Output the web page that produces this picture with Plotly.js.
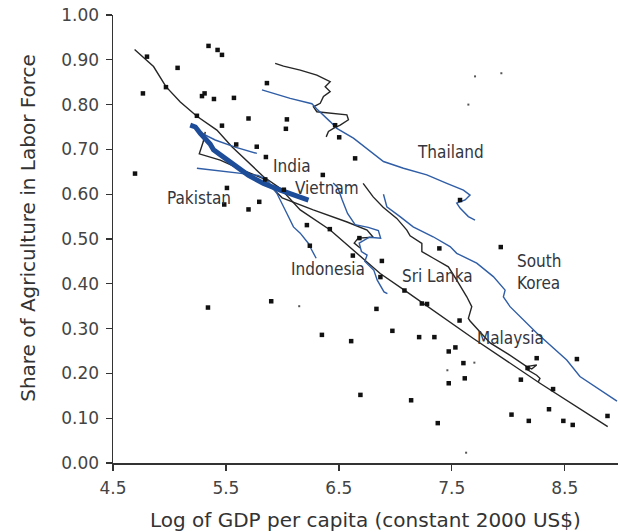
<!DOCTYPE html>
<html>
<head>
<meta charset="utf-8">
<script src="https://cdn.plot.ly/plotly-3.0.1.min.js"></script>
<style>html,body{margin:0;padding:0;background:#fff;}#chart{width:618px;height:532px;}</style>
</head>
<body>
<div id="chart"></div>
<script>
// ---- data ----
const xTicks = [4.5, 5.5, 6.5, 7.5, 8.5];
const xTickLabels = ["4.5", "5.5", "6.5", "7.5", "8.5"];
const yTicks = [0, 0.1, 0.2, 0.3, 0.4, 0.5, 0.6, 0.7, 0.8, 0.9, 1.0];
const yTickLabels = ["0.00","0.10","0.20","0.30","0.40","0.50","0.60","0.70","0.80","0.90","1.00"];

const pointsX = [4.801,5.346,5.426,5.465,5.072,4.765,4.969,5.288,5.311,5.394,5.571,5.243,5.465,5.591,5.863,5.700,6.040,6.031,5.773,5.854,6.467,6.503,6.644,6.358,4.695,5.509,5.485,5.795,5.700,6.013,5.848,6.217,6.420,6.243,6.682,6.624,6.881,6.868,7.081,7.390,7.934,7.235,7.281,6.833,7.569,6.974,6.609,7.211,7.346,7.473,7.532,7.603,7.473,7.615,8.252,8.171,8.608,8.112,8.397,6.691,7.140,8.029,8.361,8.182,8.488,8.571,8.879,7.376,5.341,5.901,6.350,7.573];
const pointsY = [0.907,0.931,0.922,0.911,0.882,0.825,0.839,0.819,0.825,0.8125,0.815,0.775,0.753,0.711,0.848,0.769,0.767,0.746,0.706,0.683,0.754,0.727,0.680,0.643,0.646,0.614,0.577,0.583,0.566,0.610,0.633,0.531,0.522,0.485,0.502,0.463,0.451,0.415,0.385,0.479,0.482,0.356,0.355,0.344,0.318,0.295,0.272,0.281,0.281,0.249,0.258,0.223,0.178,0.189,0.234,0.212,0.232,0.186,0.165,0.152,0.140,0.108,0.120,0.094,0.094,0.085,0.105,0.089,0.347,0.361,0.286,0.587];

const tinyX = [7.706,7.939,7.647,7.700,7.461,7.627,6.149];
const tinyY = [0.863,0.870,0.800,0.224,0.207,0.023,0.350];

const trendX = [4.691,4.859,4.969,5.096,5.243,5.420,5.553,5.833,5.981,6.158,6.423,6.659,6.866,7.102,7.691,8.281,8.881];
const trendY = [0.923,0.885,0.840,0.806,0.774,0.743,0.706,0.639,0.613,0.565,0.520,0.468,0.423,0.382,0.278,0.178,0.081];

const thaiBlueX = [5.819,6.069,6.261,6.305,6.423,6.482,6.629,6.777,6.895,7.072,7.279,7.456,7.603,7.662,7.618,7.544,7.573,7.647,7.706];
const thaiBlueY = [0.833,0.814,0.802,0.790,0.762,0.747,0.725,0.695,0.673,0.658,0.643,0.624,0.609,0.598,0.587,0.580,0.569,0.550,0.542];

const thaiBlackX = [5.936,6.010,6.158,6.305,6.423,6.379,6.423,6.364,6.335,6.275,6.305,6.423,6.571,6.585,6.512,6.452,6.408,6.388];
const thaiBlackY = [0.892,0.886,0.877,0.866,0.851,0.840,0.829,0.818,0.803,0.795,0.784,0.781,0.777,0.766,0.754,0.747,0.740,0.728];

const longBlackX = [6.715,6.804,6.892,7.013,7.102,7.131,7.235,7.235,7.337,7.470,7.544,7.633,7.677,7.647,7.662,7.839,8.000,8.100,8.164,8.208,8.252,8.164,8.164,8.252,8.281,8.266];
const longBlackY = [0.624,0.594,0.571,0.546,0.520,0.507,0.490,0.472,0.457,0.438,0.408,0.371,0.349,0.323,0.317,0.268,0.243,0.226,0.215,0.210,0.219,0.215,0.209,0.196,0.189,0.181];

const koreaX = [6.895,6.925,7.042,7.158,7.335,7.485,7.544,7.721,7.868,7.972,7.957,8.016,8.252,8.518,8.635,8.812,8.963];
const koreaY = [0.600,0.572,0.550,0.527,0.505,0.483,0.468,0.446,0.416,0.386,0.371,0.349,0.290,0.230,0.193,0.163,0.138];

const vietBlueX = [6.45,6.490,6.530,6.577,6.644,6.760,6.850,6.870,6.770,6.680,6.700,6.750,6.730,6.810,6.840,6.900,6.930];
const vietBlueY = [0.625,0.615,0.587,0.557,0.532,0.526,0.519,0.502,0.504,0.491,0.472,0.464,0.450,0.430,0.408,0.382,0.378];

const pakBlueX = [5.243,5.450,5.627,5.786,5.863,5.951,6.040,6.098,6.158,6.231,6.261,6.299];
const pakBlueY = [0.658,0.652,0.647,0.642,0.632,0.602,0.557,0.527,0.513,0.490,0.475,0.457];

const shortBlueX = [5.288,5.405,5.582,5.774];
const shortBlueY = [0.736,0.721,0.705,0.691];

const indiaX = [5.184,5.230,5.273,5.326,5.360,5.390,5.479,5.597,5.700,5.833,5.981,6.231];
const indiaY = [0.754,0.750,0.736,0.721,0.712,0.699,0.684,0.661,0.642,0.624,0.609,0.587];

const indoBlackX = [5.317,5.299,5.264,5.450,5.627,5.821,5.998,6.273,6.573,6.750,6.804,6.671,6.636,6.689];
const indoBlackY = [0.739,0.717,0.690,0.676,0.656,0.636,0.592,0.565,0.538,0.520,0.504,0.502,0.491,0.480];

const labelText = ["Thailand","India","Vietnam","Pakistan","Indonesia","Sri Lanka","South<br>Korea","Malaysia"];
const labelX = [7.489,6.084,6.392,5.264,6.401,7.377,8.060,8.016];
const labelY = [0.694,0.662,0.614,0.592,0.433,0.417,0.426,0.279];
const labelAnchor = ["center","center","center","center","center","center","left","center"];

// ---- styles ----
const BLACK = "#262626";
const BLUE = "#2f5da6";
const thin = (x, y, color) => ({x, y, type:"scatter", mode:"lines", line:{color, width:1.4}, hoverinfo:"skip", showlegend:false});

const traces = [
  thin(trendX, trendY, BLACK),
  thin(thaiBlackX, thaiBlackY, BLACK),
  thin(longBlackX, longBlackY, BLACK),
  thin(indoBlackX, indoBlackY, BLACK),
  thin(thaiBlueX, thaiBlueY, BLUE),
  thin(koreaX, koreaY, BLUE),
  thin(vietBlueX, vietBlueY, BLUE),
  thin(pakBlueX, pakBlueY, BLUE),
  thin(shortBlueX, shortBlueY, BLUE),
  {x:indiaX, y:indiaY, type:"scatter", mode:"lines", line:{color:"#1d4c99", width:5}, hoverinfo:"skip", showlegend:false},
  {x:pointsX, y:pointsY, type:"scatter", mode:"markers", marker:{symbol:"square", size:4.5, color:"#111"}, hoverinfo:"skip", showlegend:false},
  {x:tinyX, y:tinyY, type:"scatter", mode:"markers", marker:{symbol:"square", size:2, color:"#555"}, hoverinfo:"skip", showlegend:false}
];

const annotations = labelText.map((t, i) => ({
  x: labelX[i], y: labelY[i], xref:"x", yref:"y", text:t, showarrow:false,
  xanchor: labelAnchor[i], yanchor:"middle", align:"left",
  font:{family:"Liberation Sans Narrow, DejaVu Sans Condensed, Roboto, sans-serif", size:17, color:"#33363d"}
}));
annotations.push({
  xref:"paper", yref:"paper", x:0, xshift:-85, y:0.525, xanchor:"center", yanchor:"middle",
  text:"Share of Agriculture in Labor Force", textangle:-90, showarrow:false,
  font:{family:"DejaVu Sans, sans-serif", size:20, color:"#333"}
});
annotations.push({
  xref:"paper", yref:"paper", x:0.5, y:-0.127, xanchor:"center", yanchor:"middle",
  text:"Log of GDP per capita (constant 2000 US$)", showarrow:false,
  font:{family:"DejaVu Sans, sans-serif", size:20, color:"#333"}
});

const layout = {
  width:618, height:532,
  margin:{l:113, r:0, t:15, b:69, pad:0},
  paper_bgcolor:"#fff", plot_bgcolor:"#fff",
  showlegend:false,
  xaxis:{range:[4.5, 8.972], tickvals:xTicks, ticktext:xTickLabels, ticks:"outside", ticklen:6, tickwidth:1.3, tickcolor:"#333",
         ticklabelstandoff:3,
         showgrid:false, zeroline:false, showline:true, linecolor:"#333", linewidth:1.5,
         tickfont:{family:"DejaVu Sans, sans-serif", size:17, color:"#444"}},
  yaxis:{range:[0, 1], tickvals:yTicks, ticktext:yTickLabels, ticks:"outside", ticklen:6, tickwidth:1.3, tickcolor:"#333",
         ticklabelstandoff:3,
         showgrid:false, zeroline:false, showline:true, linecolor:"#333", linewidth:1.5,
         tickfont:{family:"DejaVu Sans, sans-serif", size:17, color:"#444"}},
  annotations
};

Plotly.newPlot("chart", traces, layout, {staticPlot:true, displayModeBar:false});
</script>
</body>
</html>
